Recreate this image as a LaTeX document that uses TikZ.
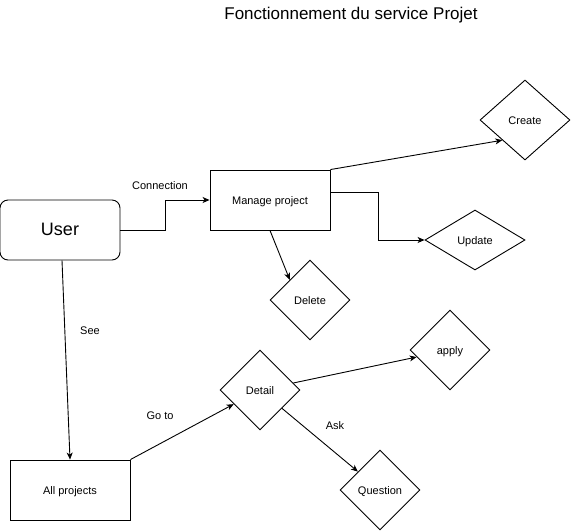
\documentclass[tikz,border=0pt]{standalone}
\usepackage{fontspec}
\setsansfont{Liberation Sans}
\usetikzlibrary{arrows.meta,shapes.geometric}

\begin{document}
\begin{tikzpicture}[
  x=1pt, y=-1pt,
  font=\sffamily\fontsize{11}{13}\selectfont,
  box/.style={
    draw=black,
    line width=0.9pt,
    minimum width=120pt,
    minimum height=60pt,
    inner sep=0pt,
    text height=8pt,
    text depth=0pt,
    align=center
  },
  userbox/.style={
    box,
    rounded corners=8pt,
    text height=10pt,
    font=\sffamily\fontsize{18}{20}\selectfont
  },
  choice/.style={
    diamond,
    draw=black,
    line width=0.9pt,
    inner sep=0pt,
    text height=8pt,
    text depth=0pt,
    minimum width=80pt,
    minimum height=80pt
  },
  lbl/.style={inner sep=0pt, text height=8pt, text depth=0pt},
  arrow/.style={-{Stealth[length=7pt,width=6pt,inset=2pt]}, line width=0.9pt, draw=black}
]
\useasboundingbox (0,0) rectangle (571,531);

\node[font=\sffamily\fontsize{17}{20}\selectfont] (title) at (351,15) {Fonctionnement du service Projet};

\node[userbox] (user) at (60,230) {User};
\node[box] (manage) at (270,200) {Manage project};
\node[box] (all) at (70,490) {All projects};

\node[choice, minimum width=90pt] (create) at (525,120) {Create};
\node[choice, minimum width=100pt, minimum height=60pt] (update) at (475,240) {Update};
\node[choice] (delete) at (310,300) {Delete};
\node[choice] (detail) at (260,390) {Detail};
\node[choice] (apply) at (450,350) {apply};
\node[choice] (question) at (380,490) {Question};

\node[lbl] (lconn) at (160,185) {Connection};
\node[lbl] (lsee) at (90,330) {See};
\node[lbl] (lgoto) at (160,415) {Go to};
\node[lbl] (lask) at (335,425) {Ask};

\draw[arrow] (user.east) -- ++(45,0) |- (manage.west);
\draw[arrow] (manage.north east) -- (create.south west);
\draw[arrow] ([yshift=8pt]manage.east) -- ++(48,0) |- (update.west);
\draw[arrow] (manage.south) -- (delete.north west);
\draw[arrow] ([xshift=2pt]user.south) -- (all.north);
\draw[arrow] (all.north east) -- (detail);
\draw[arrow] (detail) -- (apply);
\draw[arrow] (detail) -- (question);

\end{tikzpicture}
\end{document}
